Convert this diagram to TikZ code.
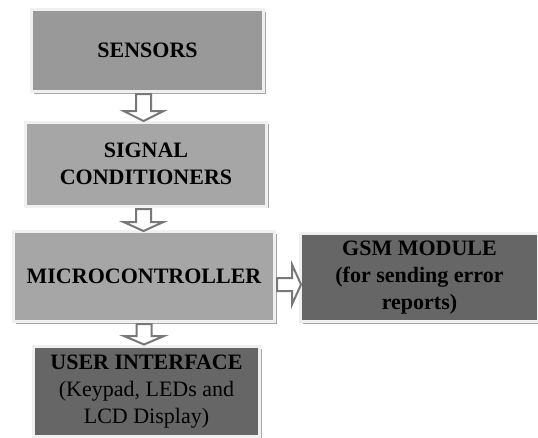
\documentclass[tikz,border=0pt]{standalone}
\usepackage{fontspec}
\setmainfont{Liberation Serif}
\usetikzlibrary{shadows}
\begin{document}
\begin{tikzpicture}[x=0.75pt,y=-0.75pt,
  blk/.style={draw=black!6,line width=2.25pt,inner sep=0pt,align=center,
    font=\fontsize{16.5}{20.25}\selectfont,text=black,
    drop shadow={shadow xshift=1.6pt,shadow yshift=-1.6pt,fill=black!35,opacity=1}},
  lightbox/.style={blk,fill=black!35},
  midbox/.style={blk,fill=black!40},
  darkbox/.style={blk,fill=black!60},
  blockarrow/.style={draw=black!53,fill=white,line width=1.5pt,line join=miter}]
\useasboundingbox[fill=white] (0,0) rectangle (538,437);
\node[midbox,minimum width=174pt,minimum height=61.5pt] (sen) at (147.5,50.5) {\bfseries SENSORS};
\node[lightbox,minimum width=180.75pt,minimum height=63pt] (sig) at (146,164) {\bfseries SIGNAL\\\bfseries CONDITIONERS};
\node[lightbox,minimum width=195.75pt,minimum height=67.5pt] (mcu) at (144,276.5) {\bfseries MICROCONTROLLER};
\node[darkbox,minimum width=169.5pt,minimum height=67.5pt] (ui) at (146.5,391.5) {\bfseries USER INTERFACE\\(Keypad, LEDs and\\LCD Display)};
\node[darkbox,minimum width=178.5pt,minimum height=66pt] (gsm) at (419.5,277.5) {\bfseries GSM MODULE\\\bfseries (for sending error\\\bfseries reports)};
% block arrows (start points)
\coordinate (a1) at (143.5,94);
\coordinate (a2) at (143.5,209);
\coordinate (a3) at (144,324);
\coordinate (a4) at (277,284.5);
\draw[blockarrow] (a1) ++(-7.5,0) -- ++(0,17) -- ++(-12.5,0) -- ++(20,10) -- ++(20,-10) -- ++(-12.5,0) -- ++(0,-17) -- cycle;
\draw[blockarrow] (a2) ++(-7.5,0) -- ++(0,13) -- ++(-12.5,0) -- ++(20,9) -- ++(20,-9) -- ++(-12.5,0) -- ++(0,-13) -- cycle;
\draw[blockarrow] (a3) ++(-7.5,0) -- ++(0,12) -- ++(-12.5,0) -- ++(20,8.5) -- ++(20,-8.5) -- ++(-12.5,0) -- ++(0,-12) -- cycle;
\draw[blockarrow] (a4) ++(0,-6.5) -- ++(15,0) -- ++(0,-13.5) -- ++(9,20) -- ++(-9,20) -- ++(0,-13.5) -- ++(-15,0) -- cycle;
\end{tikzpicture}
\end{document}
